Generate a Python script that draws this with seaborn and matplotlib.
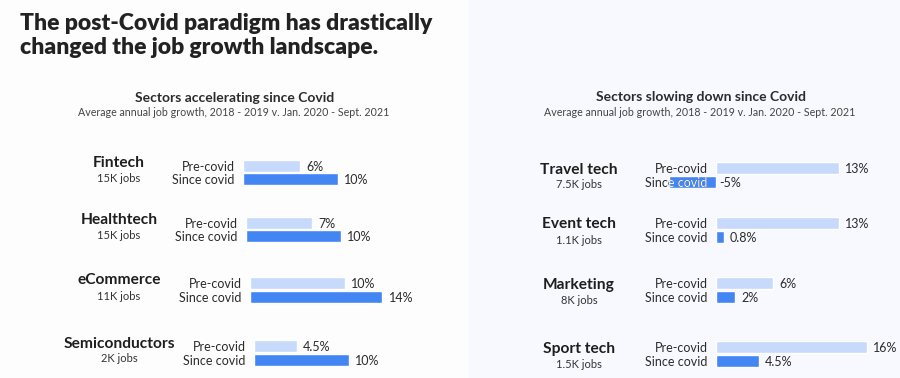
import matplotlib
matplotlib.use("Agg")
import matplotlib.pyplot as plt
from matplotlib.patches import Rectangle
import pandas as pd
import seaborn as sns

sns.set_style("white")
plt.rcParams['font.family'] = ['Lato', 'DejaVu Sans']

# data
periods = ["Pre-covid", "Since covid"]

left_sectors = ["Fintech", "Healthtech", "eCommerce", "Semiconductors"]
left_jobs = ["15K jobs", "15K jobs", "11K jobs", "2K jobs"]
left_pre = [6, 7, 10, 4.5]
left_since = [10, 10, 14, 10]

right_sectors = ["Travel tech", "Event tech", "Marketing", "Sport tech"]
right_jobs = ["7.5K jobs", "1.1K jobs", "8K jobs", "1.5K jobs"]
right_pre = [13, 13, 6, 16]
right_since = [-5, 0.8, 2, 4.5]

W, H = 900, 378
PX = 9.45  # pixels per percent point
PRE_C = "#c8dafb"
SINCE_C = "#4386f3"
TXT = "#2b2b2b"

fig = plt.figure(figsize=(9, 3.78), dpi=100)
fig.patch.set_facecolor("#fdfdfe")
fig.add_artist(Rectangle((469 / W, 0), 431 / W, 1, transform=fig.transFigure,
                         color="#f8f9fe", zorder=0))

# headline
fig.text(20 / W, 1 - 30 / H, "The post-Covid paradigm has drastically",
         fontsize=16.5, fontweight="heavy", color="#222222", va="baseline")
fig.text(20 / W, 1 - 53.5 / H, "changed the job growth landscape.",
         fontsize=16.5, fontweight="heavy", color="#222222", va="baseline")

# panel titles
sub = "Average annual job growth, 2018 - 2019 v. Jan. 2020 - Sept. 2021"
fig.text(235 / W, 1 - 101.5 / H, "Sectors accelerating since Covid", ha="center",
         va="baseline", fontsize=10, fontweight="bold", color=TXT)
fig.text(234 / W, 1 - 115.5 / H, sub, ha="center", va="baseline", fontsize=7.7, color="#444444")
fig.text(701 / W, 1 - 101 / H, "Sectors slowing down since Covid", ha="center",
         va="baseline", fontsize=10, fontweight="bold", color=TXT)
fig.text(700 / W, 1 - 115.5 / H, sub, ha="center", va="baseline", fontsize=7.7, color="#444444")


def draw_group(x0, mid, sector, jobs, vals, name_x, name_dy, jobs_dy):
    lo, hi = -7, 18
    ax = fig.add_axes([(x0 + lo * PX) / W, 1 - (mid + 13.5) / H,
                       (hi - lo) * PX / W, 27 / H])
    df = pd.DataFrame({"period": periods, "growth": vals})
    sns.barplot(data=df, x="growth", y="period", hue="period", order=periods,
                hue_order=periods, palette=[PRE_C, SINCE_C], width=0.86,
                saturation=1, legend=False, ax=ax)
    ax.set_xlim(lo, hi)
    ax.set_ylim(1.5, -0.5)
    ax.set_axis_off()
    ax.patch.set_alpha(0)
    for i, (p, v) in enumerate(zip(periods, vals)):
        ax.annotate(p, xy=(0, i), xytext=(-6, 0), textcoords="offset points",
                    ha="right", va="center_baseline", fontsize=9, color=TXT)
        if v < 0:
            # part of the label covered by the negative bar shows in white
            bar = [b for b in ax.patches if b.get_width() < 0][0]
            wt = ax.annotate(p, xy=(0, i), xytext=(-6, 0), textcoords="offset points",
                             ha="right", va="center_baseline", fontsize=9, color="white",
                             zorder=5)
            wt.set_clip_path(bar)
            wt.set_clip_on(True)
        ax.annotate(f"{v:g}%", xy=(max(v, 0), i), xytext=(4.5 if v > 0 else 2.5, 0),
                    textcoords="offset points", ha="left", va="center_baseline",
                    fontsize=9, color=TXT)
    fig.text(name_x / W, 1 - (mid + name_dy) / H, sector, ha="center", va="baseline",
             fontsize=11.2, fontweight="bold", color="#1e1e1e")
    fig.text(name_x / W, 1 - (mid + jobs_dy) / H, jobs, ha="center", va="baseline",
             fontsize=8, color="#333333")


left_x = [243, 246, 250, 254]
left_mid = [172.5, 229.5, 290, 353]
for k in range(4):
    draw_group(left_x[k], left_mid[k], left_sectors[k], left_jobs[k],
               [left_pre[k], left_since[k]], 119, -5.5, 9.5)

right_mid = [175, 230, 290, 354]
for k in range(4):
    draw_group(716, right_mid[k], right_sectors[k], right_jobs[k],
               [right_pre[k], right_since[k]], 579, -1.5, 13.5)

fig.savefig("out.png", dpi=100, facecolor=fig.get_facecolor())
